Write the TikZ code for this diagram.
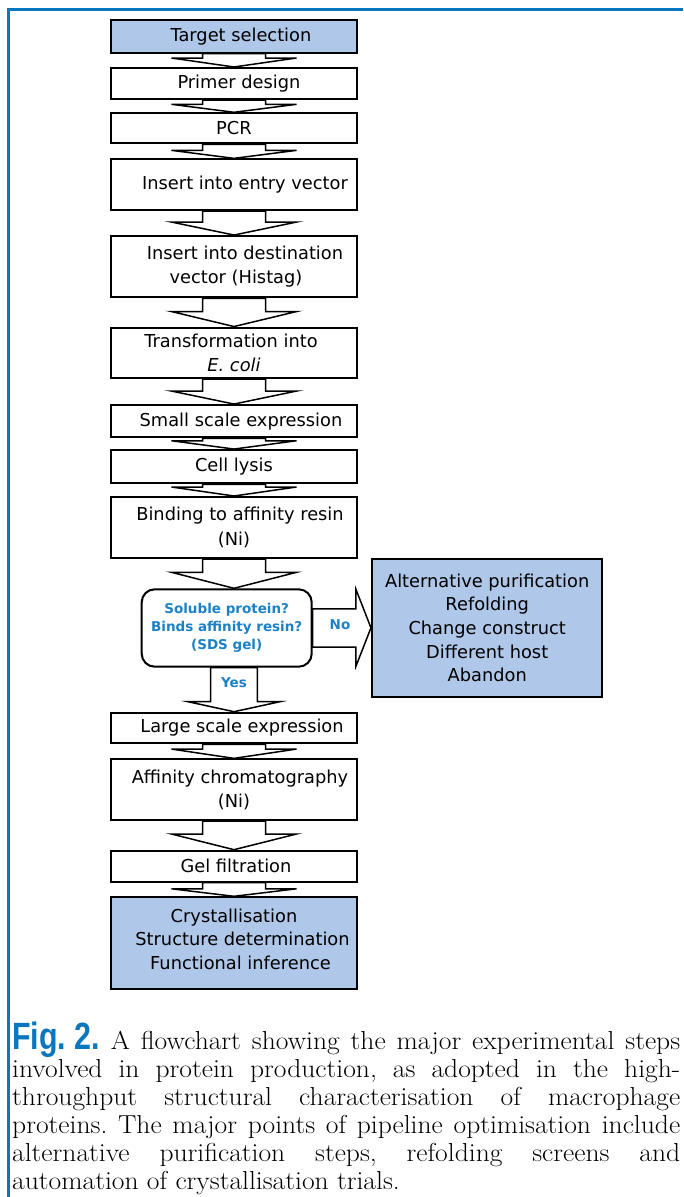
\documentclass[tikz,border=0pt]{standalone}
\usepackage{fontspec}
\usepackage{graphicx}
\newfontfamily\boxfont{DejaVu Sans}
\newfontfamily\figfont{Liberation Sans}
\newfontfamily\capfont{Latin Modern Roman}[FakeStretch=1.06]
\usetikzlibrary{calc,backgrounds}
\definecolor{boxblue}{RGB}{175,199,232}
\definecolor{qblue}{RGB}{28,130,200}
\definecolor{frameblue}{RGB}{10,118,190}
% block arrow from a start coordinate (#1) down to node #2
% #3 stem half width, #4 head half width, #5 head height
\newcommand\blkdown[5]{%
  \draw[blockarrow] let \p1=(#1), \p2=(#2.north) in
    (\x1-#3pt,\y1) -- (\x1-#3pt,\y2+#5pt) -- (\x1-#4pt,\y2+#5pt) -- (\x1,\y2)
    -- (\x1+#4pt,\y2+#5pt) -- (\x1+#3pt,\y2+#5pt) -- (\x1+#3pt,\y1) -- cycle;}
\begin{document}
\begin{tikzpicture}[x=1pt,y=-1pt,
  box/.style={draw=black, line width=2pt, fill=white, minimum width=246pt,
    inner sep=0pt, align=center, font=\boxfont\fontsize{17.8}{24.5}\selectfont},
  bluebox/.style={box, fill=boxblue},
  decision/.style={draw=black, line width=2pt, fill=white, rounded corners=13pt,
    minimum width=170pt, minimum height=77.4pt, inner sep=0pt, align=center,
    text=qblue, font=\boxfont\bfseries\fontsize{13.5}{18}\selectfont},
  lbl/.style={inner sep=0pt, text=qblue, font=\boxfont\bfseries\fontsize{13.5}{16}\selectfont},
  blockarrow/.style={draw=black, line width=1.5pt, fill=white, line join=miter}]
\useasboundingbox (0,0) rectangle (683,1197);

% frame
\draw[frameblue, line width=2.8pt] (683,9.5) -- (8.5,9.5) -- (8.5,1197);

% boxes
\node[bluebox, minimum height=33pt] (target) at (234,36.2) {\hspace*{14pt}Target selection};
\node[box, minimum height=31pt] (primer) at (234,83.5) {\hspace*{10pt}Primer design};
\node[box, minimum height=30pt] (pcr) at (234,128.3) {PCR};
\node[box, minimum height=50.7pt] (entry) at (234,184.7) {\hspace*{22pt}Insert into entry vector};
\node[box, minimum height=61.3pt] (dest) at (234,266.7) {\hspace*{22pt}Insert into destination\\\hspace*{4pt}vector (Histag)};
\node[box, minimum height=50.5pt] (transf) at (234,352.8) {Transformation into\hspace*{6pt}\\\textit{E. coli}};
\node[box, minimum height=32.3pt] (small) at (234,421.2) {\hspace*{14pt}Small scale expression};
\node[box, minimum height=33.3pt] (lysis) at (234,466.7) {Cell lysis};
\node[box, minimum height=61pt] (binding) at (234,527.5) {\hspace*{12pt}Binding to affinity resin\\(Ni)};
\node[decision] (dec) at (226.7,628) {Soluble protein?\\Binds affinity resin?\\(SDS gel)};
\node[bluebox, minimum width=230.5pt, minimum height=137.7pt,
  font=\boxfont\fontsize{17.8}{23.7}\selectfont] (alt) at (487.2,627.8)
  {Alternative purification\\Refolding\\Change construct\\Different host\\Abandon};
\node[box, minimum height=30.6pt] (large) at (234,728) {\hspace*{16pt}Large scale expression};
\node[box, minimum height=60.7pt] (affinity) at (234,789.7) {\hspace*{12pt}Affinity chromatography\\(Ni)};
\node[box, minimum height=31pt] (gel) at (234,866.2) {\hspace*{4pt}Gel filtration};
\node[bluebox, minimum height=92pt] (cryst) at (234,943.3) {};
\begin{scope}
  \clip (112,898) rectangle (347.5,988.5);
  \node[inner sep=0pt, align=center, font=\boxfont\fontsize{17.8}{23.7}\selectfont]
    (crysttext) at ($(cryst.center)+(0,-4)$)
    {Crystallisation\\\hspace*{17pt}Structure determination\\\hspace*{13pt}Functional inference};
\end{scope}

% connectors
\begin{scope}[on background layer]
  \blkdown{target.south}{primer}{31.5}{62.5}{9}
  \blkdown{primer.south}{pcr}{31.5}{62.5}{8}
  \blkdown{pcr.south}{entry}{31.5}{62.5}{8}
  \blkdown{entry.south}{dest}{31.5}{62.5}{13}
  \blkdown{dest.south}{transf}{31.5}{62.5}{15}
  \blkdown{transf.south}{small}{31.5}{62.5}{13}
  \blkdown{small.south}{lysis}{31.5}{62.5}{8.3}
  \blkdown{lysis.south}{binding}{31.5}{62.5}{9}
  \blkdown{binding.south}{dec}{31.5}{62.5}{16}
  \blkdown{large.north |- dec.south}{large}{23.3}{46}{10}
  \blkdown{large.south}{affinity}{31.5}{62.5}{9.3}
  \blkdown{affinity.south}{gel}{31.5}{62.5}{15.7}
  \blkdown{gel.south}{cryst}{31.5}{62.5}{7.5}
  \draw[blockarrow] let \p1=(dec.east), \p2=(alt.west) in
    (\x1,\y1+19.2pt) -- (\x2-15pt,\y1+19.2pt) -- (\x2-15pt,\y2+38.4pt) -- (\x2,\y2)
    -- (\x2-15pt,\y2-38.4pt) -- (\x2-15pt,\y1-19.2pt) -- (\x1,\y1-19.2pt) -- cycle;
\end{scope}
\node[lbl] (nolbl) at (340,625) {No};
\node[lbl] (yeslbl) at (234,682.7) {Yes};

% caption
\node[anchor=north west, inner sep=0pt, align=left,
  font=\capfont\fontsize{26}{28}\selectfont\frenchspacing] (caption) at (12,1022) {%
\makebox[668pt][s]{{\color{frameblue}\figfont\bfseries\fontsize{38}{38}\selectfont\scalebox{0.8}[1]{Fig. 2.}} A flowchart showing the major experimental steps}\\
\makebox[668pt][s]{involved in protein production, as adopted in the high-}\\
\makebox[668pt][s]{throughput structural characterisation of macrophage}\\
\makebox[668pt][s]{proteins. The major points of pipeline optimisation include}\\
\makebox[668pt][s]{alternative purification steps, refolding screens and}\\
automation of crystallisation trials.};
\end{tikzpicture}
\end{document}
